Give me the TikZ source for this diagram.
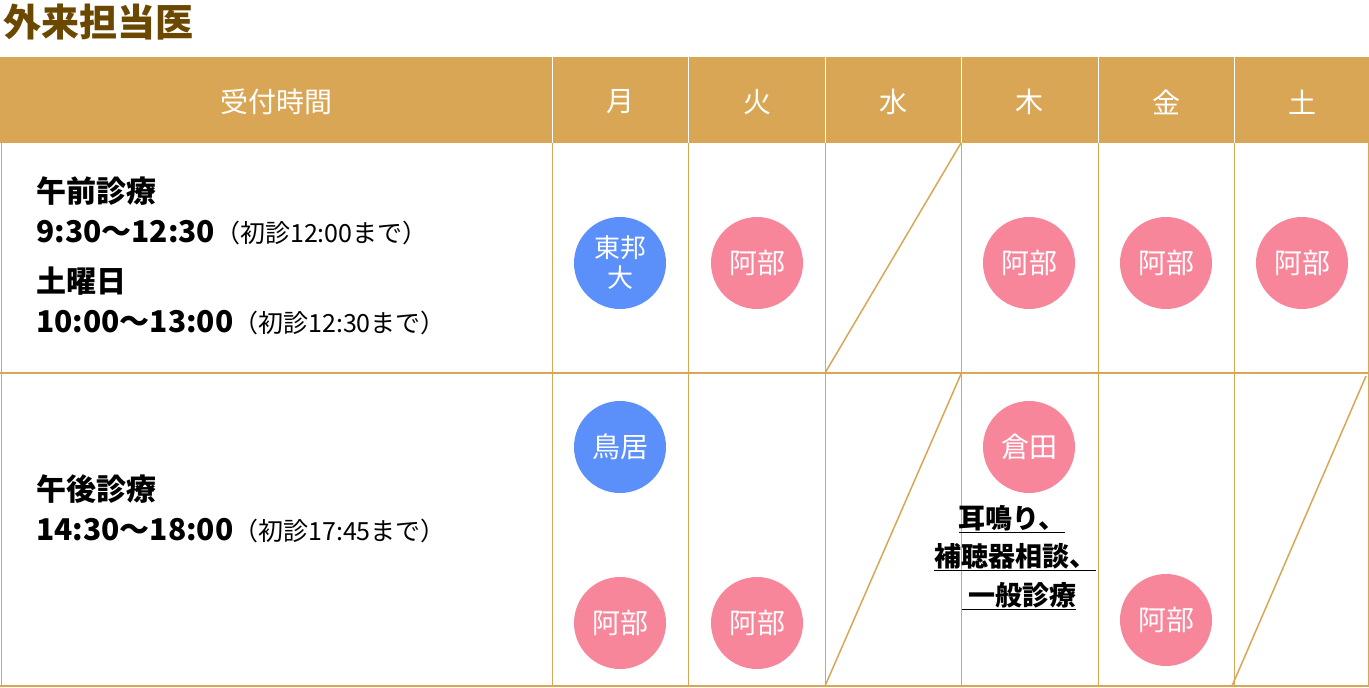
\documentclass[tikz,border=0pt]{standalone}
\usepackage{fontspec}
\setmainfont{Noto Sans CJK JP}
\definecolor{gold}{HTML}{D9A656}
\definecolor{title}{HTML}{6B4800}
\definecolor{blu}{HTML}{5B8FF9}
\definecolor{pnk}{HTML}{F7869A}
\begin{document}
\begin{tikzpicture}[x=1pt,y=-1pt,
  doc/.style={circle,minimum size=92pt,inner sep=0pt,text=white,font=\fontsize{28}{30}\selectfont,align=center},
  hd/.style={text=white,font=\fontsize{28}{30}\selectfont},
  big/.style={anchor=base west,inner sep=0pt,font=\bfseries\fontsize{30}{32}\selectfont},
  und/.style={inner sep=0pt,font=\bfseries\fontsize{27}{29}\selectfont}]
\useasboundingbox (0,0) rectangle (1369,688);
\node[anchor=base west,inner sep=0pt,text=title,font=\bfseries\fontsize{38}{40}\selectfont] (t) at (3,36) {外来担当医};
\fill[gold] (0,57) rectangle (1369,143);
\draw[gold,line width=2pt] (0,373) -- (1369,373);
\draw[gold,line width=2pt] (0,686) -- (1369,686);
\draw[gold,line width=1pt] (1,143) -- (1,686);
\foreach \x in {552,688,825,961,1098,1234}{
  \draw[gold,line width=1pt] (\x,143) -- (\x,686);
  \draw[white,line width=1pt] (\x,57) -- (\x,143);}
\draw[gold,line width=1pt] (1368,143) -- (1368,686);
\draw[gold,line width=1.5pt] (825,373) -- (961,143);
\draw[gold,line width=1.5pt] (825,686) -- (961,374);
\draw[gold,line width=1.5pt] (1232,686) -- (1366,376);
\node[hd] (h0) at (276,102) {受付時間};
\node[hd] (h1) at (620,102) {月};
\node[hd] (h2) at (757,102) {火};
\node[hd] (h3) at (893,102) {水};
\node[hd] (h4) at (1029,102) {木};
\node[hd] (h5) at (1166,102) {金};
\node[hd] (h6) at (1302,102) {土};
\node[big] (a1) at (36,202) {午前診療};
\node[big] (a2) at (36,242) {9:30～12:30{\mdseries\fontsize{25}{27}\selectfont （初診12:00まで）}};
\node[big] (a3) at (36,292) {土曜日};
\node[big] (a4) at (36,332) {10:00～13:00{\mdseries\fontsize{25}{27}\selectfont （初診12:30まで）}};
\node[big] (b1) at (36,500) {午後診療};
\node[big] (b2) at (36,540) {14:30～18:00{\mdseries\fontsize{25}{27}\selectfont （初診17:45まで）}};
\node[doc,fill=blu,font=\fontsize{26}{30}\selectfont] (c1) at (620,263) {東邦\\大};
\node[doc,fill=pnk] (c2) at (757,263) {阿部};
\node[doc,fill=pnk] (c3) at (1029,263) {阿部};
\node[doc,fill=pnk] (c4) at (1166,263) {阿部};
\node[doc,fill=pnk] (c5) at (1302,263) {阿部};
\node[doc,fill=blu] (d1) at (620,447) {鳥居};
\node[doc,fill=pnk] (d2) at (620,623) {阿部};
\node[doc,fill=pnk] (d3) at (757,623) {阿部};
\node[doc,fill=pnk] (d4) at (1029,447) {倉田};
\node[doc,fill=pnk] (d5) at (1166,620) {阿部};
\node[und] (u1) at (1012,519) {\underline{耳鳴り、}};
\node[und] (u2) at (1015,557) {\underline{補聴器相談、}};
\node[und] (u3) at (1019,596) {\underline{\ 一般診療}};
\end{tikzpicture}
\end{document}
